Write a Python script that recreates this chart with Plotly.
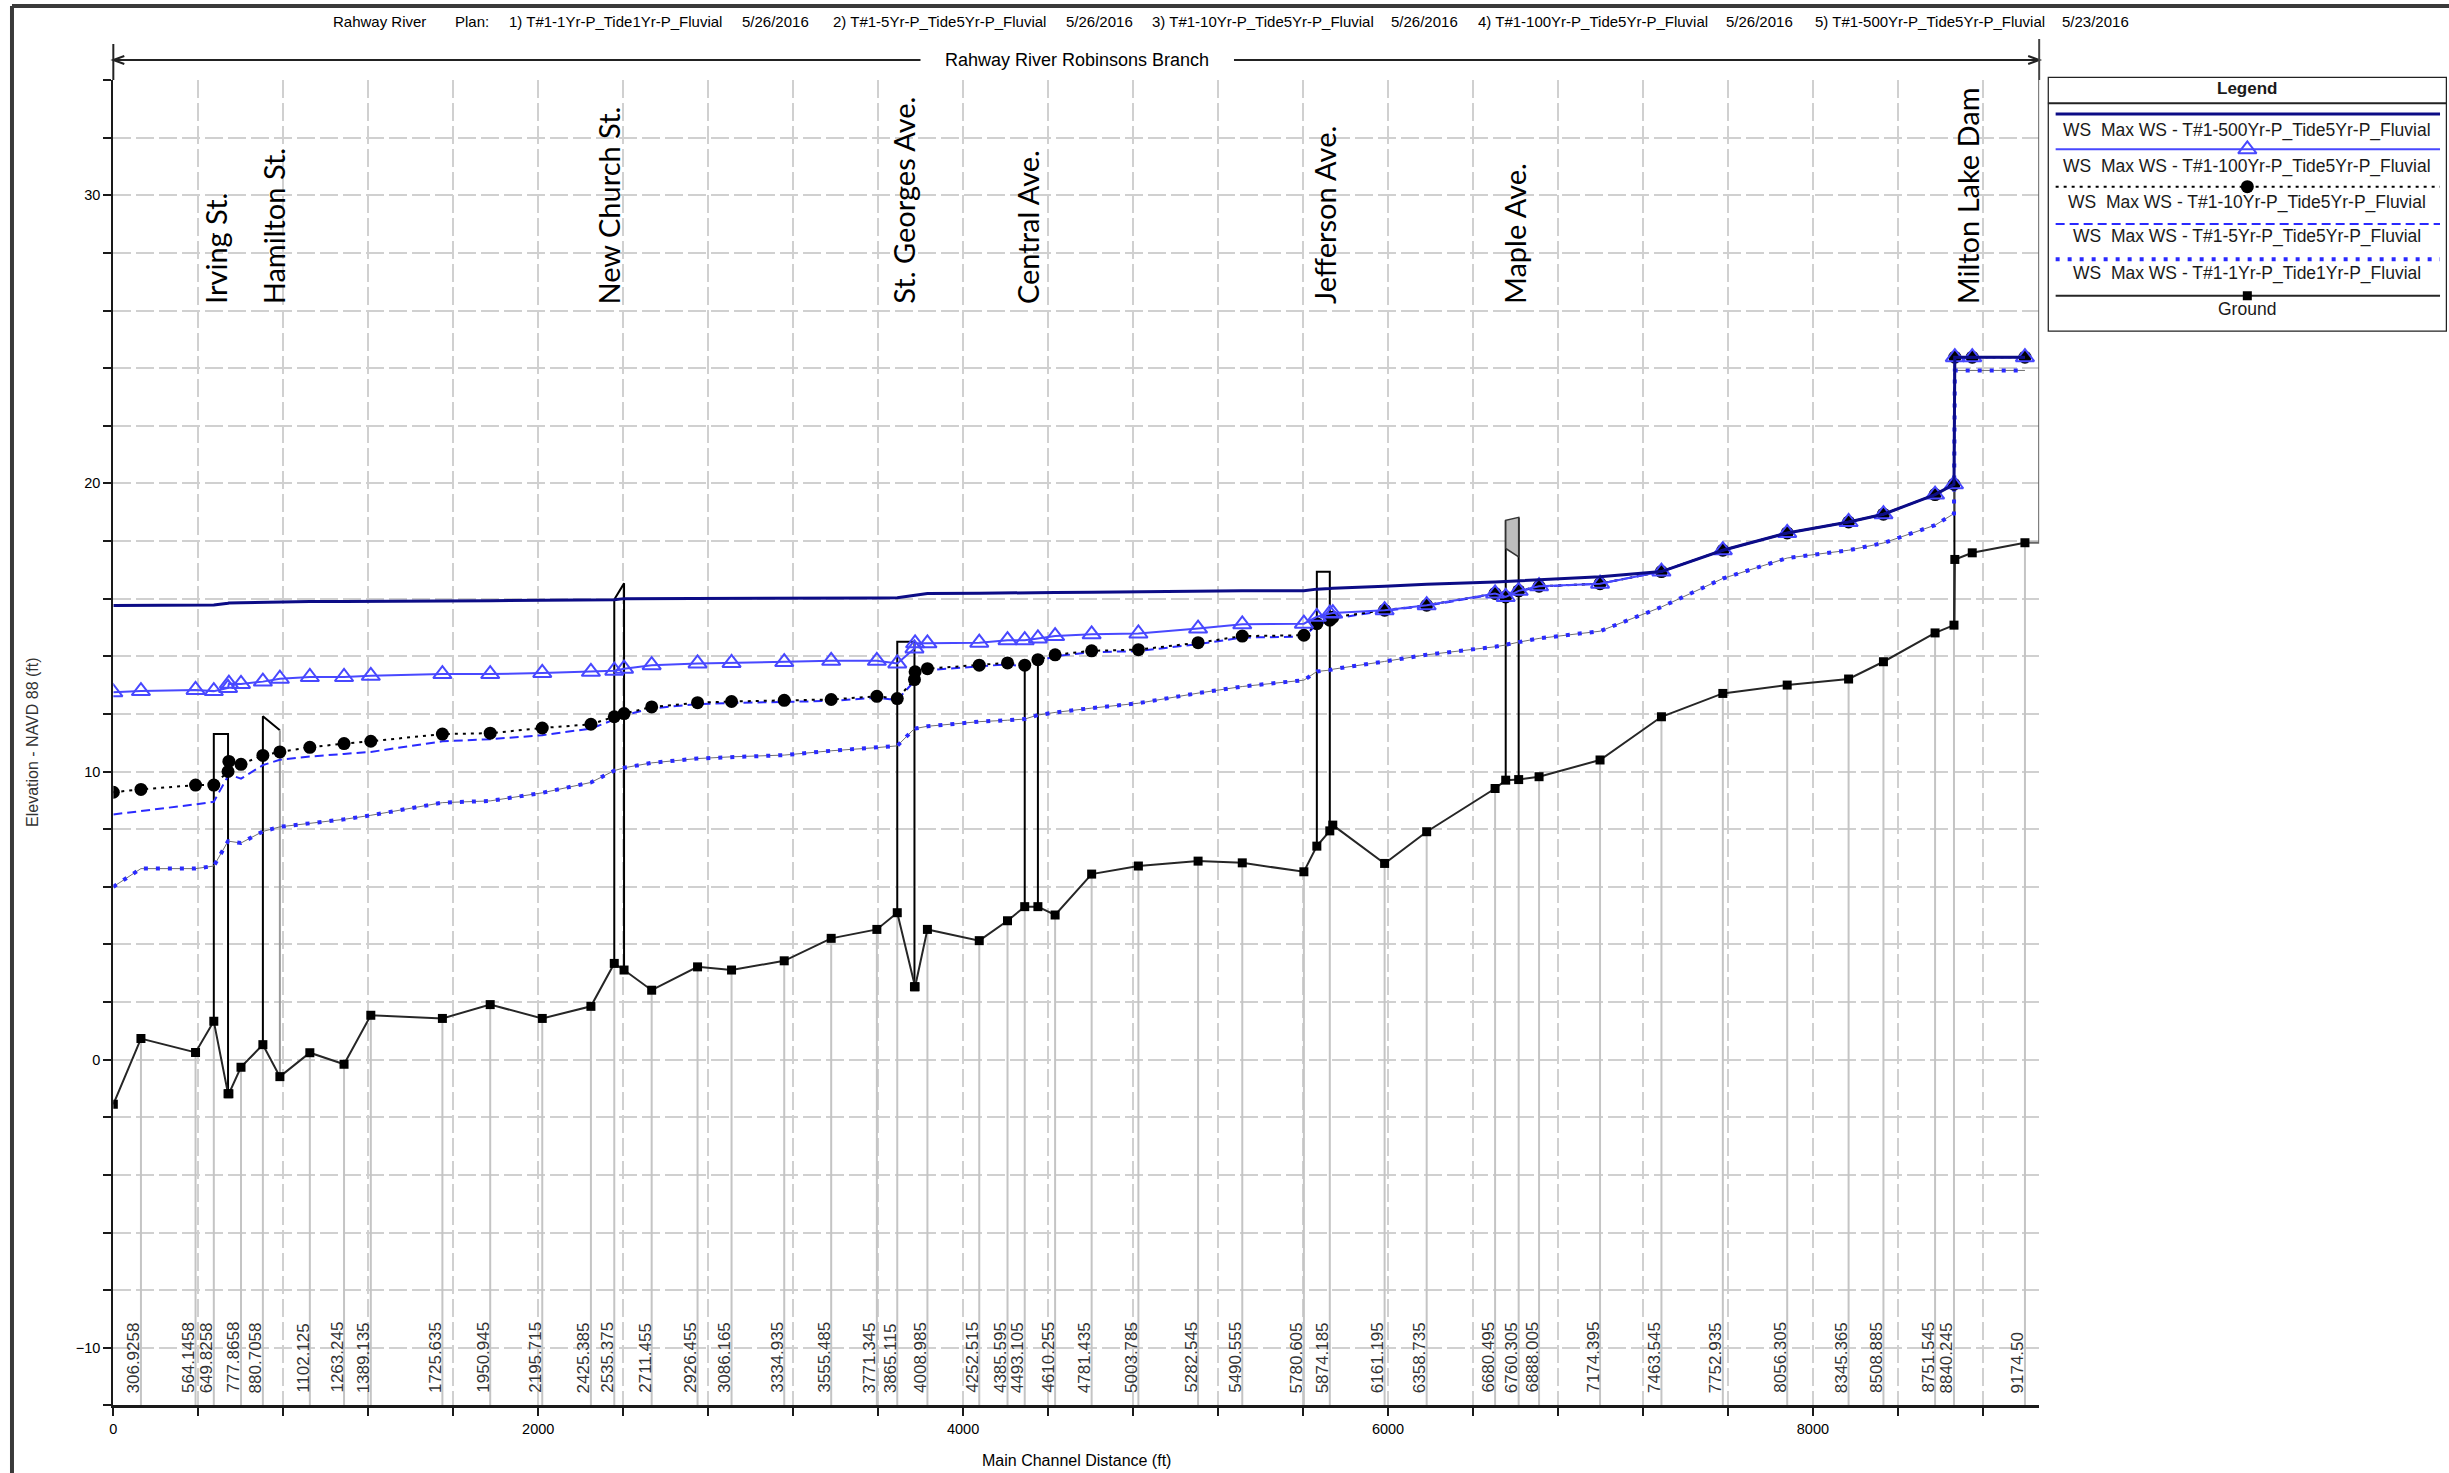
import plotly.graph_objects as go

W, H = 2449, 1473

# ---------------------------------------------------------------------------
# Water-surface profile along Rahway River Robinsons Branch
# ---------------------------------------------------------------------------
distance = [0, 130, 387, 473, 540, 544, 601, 704, 784, 925,
            1086, 1212, 1549, 1774, 2019, 2248, 2358, 2404, 2534, 2750,
            2910, 3158, 3379, 3594, 3690, 3771, 3774, 3832, 4076, 4209,
            4290, 4352, 4433, 4605, 4825, 5106, 5314, 5604, 5665, 5726,
            5740, 5984, 6182, 6504, 6554, 6615, 6711, 6998, 7287, 7576,
            7879, 8168, 8332, 8575, 8664, 8668, 8750, 8998]

river_station = ['', '306.9258', '564.1458', '649.8258', '', '', '777.8658', '880.7058', '', '1102.125',
                 '1263.245', '1389.135', '1725.635', '1950.945', '2195.715', '2425.385', '2535.375', '', '2711.455', '2926.455',
                 '3086.165', '3334.935', '3555.485', '3771.345', '3865.115', '', '', '4008.985', '4252.515', '4385.595',
                 '4493.105', '', '4610.255', '4781.435', '5003.785', '5282.545', '5490.555', '5780.605', '', '5874.185',
                 '', '6161.195', '6358.735', '6680.495', '', '6760.305', '6888.005', '7174.395', '7463.545', '7752.935',
                 '8056.305', '8345.365', '8508.885', '8751.545', '8840.245', '', '', '9174.50']

ground = [-1.55, 0.73, 0.25, 1.33, -1.18, -1.18, -0.26, 0.52, -0.59, 0.24,
          -0.16, 1.54, 1.43, 1.91, 1.43, 1.85, 3.34, 3.11, 2.41, 3.22,
          3.11, 3.43, 4.21, 4.52, 5.10, 2.53, 2.53, 4.52, 4.13, 4.82,
          5.31, 5.31, 5.02, 6.44, 6.72, 6.89, 6.83, 6.52, 7.41, 7.94,
          8.14, 6.81, 7.91, 9.41, 9.70, 9.72, 9.82, 10.40, 11.90, 12.71,
          13.00, 13.21, 13.81, 14.81, 15.08, 17.36, 17.59, 17.94]

ws_1yr = [6.00, 6.63, 6.63, 6.72, 7.58, 7.58, 7.52, 7.92, 8.08, 8.20,
          8.34, 8.48, 8.92, 8.98, 9.26, 9.62, 10.03, 10.13, 10.30, 10.45,
          10.51, 10.57, 10.72, 10.83, 10.89, 11.49, 11.49, 11.57, 11.73, 11.78,
          11.82, 11.96, 12.05, 12.20, 12.37, 12.72, 12.95, 13.17, 13.47, 13.52,
          13.55, 13.82, 14.05, 14.33, 14.39, 14.49, 14.62, 14.87, 15.71, 16.70,
          17.41, 17.68, 17.93, 18.55, 18.95, 23.92, 23.92, 23.92]

ws_5yr = [8.51, 8.62, 8.86, 8.95, 9.88, 9.90, 9.75, 10.22, 10.41, 10.52,
          10.61, 10.68, 11.05, 11.12, 11.26, 11.49, 11.80, 11.95, 12.19, 12.34,
          12.38, 12.42, 12.45, 12.56, 12.48, 13.14, 13.41, 13.52, 13.64, 13.72,
          13.64, 13.83, 14.00, 14.14, 14.18, 14.42, 14.65, 14.68, 15.10, 15.22,
          15.30, 15.58, 15.75, 16.16, 16.04, 16.25, 16.41, 16.52, 16.94, 17.68,
          18.28, 18.66, 18.93, 19.61, 19.97, 24.38, 24.38, 24.38]

ws_10yr = [9.28, 9.38, 9.53, 9.53, 10.00, 10.35, 10.25, 10.56, 10.68, 10.84,
           10.97, 11.05, 11.30, 11.33, 11.51, 11.64, 11.90, 12.01, 12.24, 12.39,
           12.43, 12.47, 12.50, 12.61, 12.53, 13.19, 13.46, 13.57, 13.69, 13.77,
           13.69, 13.88, 14.05, 14.19, 14.23, 14.47, 14.70, 14.73, 15.13, 15.25,
           15.35, 15.60, 15.77, 16.18, 16.06, 16.27, 16.43, 16.52, 16.94, 17.68,
           18.28, 18.66, 18.93, 19.61, 19.97, 24.38, 24.38, 24.38]

ws_100yr = [12.75, 12.79, 12.83, 12.79, 12.90, 13.05, 13.04, 13.12, 13.22, 13.28,
            13.28, 13.32, 13.38, 13.38, 13.42, 13.46, 13.50, 13.57, 13.69, 13.75,
            13.77, 13.80, 13.84, 13.84, 13.75, 14.27, 14.45, 14.45, 14.47, 14.56,
            14.56, 14.62, 14.70, 14.76, 14.79, 14.96, 15.11, 15.13, 15.37, 15.48,
            15.50, 15.60, 15.77, 16.18, 16.06, 16.27, 16.43, 16.52, 16.94, 17.68,
            18.28, 18.66, 18.93, 19.61, 19.97, 24.38, 24.38, 24.38]

ws_500yr = [15.76, 15.76, 15.77, 15.78, 15.84, 15.85, 15.86, 15.88, 15.89, 15.90,
            15.90, 15.91, 15.92, 15.93, 15.94, 15.95, 15.96, 16.00, 16.00, 16.01,
            16.01, 16.02, 16.02, 16.02, 16.03, 16.12, 16.14, 16.18, 16.19, 16.19,
            16.20, 16.20, 16.21, 16.22, 16.24, 16.26, 16.27, 16.27, 16.33, 16.35,
            16.36, 16.43, 16.50, 16.58, 16.60, 16.62, 16.66, 16.76, 16.94, 17.68,
            18.28, 18.66, 18.93, 19.61, 19.97, 24.38, 24.38, 24.38]

# bridge decks / structures (distance ft, elevation ft)
irving_x, irving_z = [473, 473, 540, 540], [1.33, 11.30, 11.30, -1.18]
hamilton_x, hamilton_z = [704, 704, 784], [0.52, 11.92, 11.43]
hamilton_face_x, hamilton_face_z = [784, 784], [11.43, -0.59]
newchurch_x, newchurch_z = [2358, 2358, 2404, 2404], [3.34, 15.97, 16.53, 3.11]
stgeorges_x, stgeorges_z = [3690, 3690, 3771, 3771], [5.10, 14.50, 14.50, 2.53]
central_x, central_z = [4290, 4290, None, 4352, 4352], [5.31, 13.69, None, 5.31, 13.88]
jefferson_x, jefferson_z = [5665, 5665, 5726, 5726], [7.41, 16.93, 16.93, 7.94]
maple_x, maple_z = [6554, 6554, None, 6615, 6615], [9.70, 18.72, None, 9.72, 18.82]
maple_deck_x, maple_deck_z = [6554, 6554, 6615, 6615, 6554], [17.74, 18.72, 18.82, 17.45, 17.74]
dam_x, dam_z = [8666, 8666], [15.08, 19.97]
reach_end_x, reach_end_z = [8998, 9065, 9065], [17.94, 17.94, 34.0]

road_names = ["Irving St.", "Hamilton St.", "New Church St.", "St. Georges Ave.",
              "Central Ave.", "Jefferson Ave.", "Maple Ave.", "Milton Lake Dam"]
road_distance = [480, 752, 2330, 3722, 4300, 5698, 6595, 8728]

header_items = ["Rahway River", "Plan:", "1) T#1-1Yr-P_Tide1Yr-P_Fluvial", "5/26/2016",
                "2) T#1-5Yr-P_Tide5Yr-P_Fluvial", "5/26/2016", "3) T#1-10Yr-P_Tide5Yr-P_Fluvial",
                "5/26/2016", "4) T#1-100Yr-P_Tide5Yr-P_Fluvial", "5/26/2016",
                "5) T#1-500Yr-P_Tide5Yr-P_Fluvial", "5/23/2016"]
header_left_px = [328, 450, 504, 737, 828, 1062, 1148, 1387, 1474, 1723, 1812, 2059]

legend_labels = ["WS  Max WS - T#1-500Yr-P_Tide5Yr-P_Fluvial",
                 "WS  Max WS - T#1-100Yr-P_Tide5Yr-P_Fluvial",
                 "WS  Max WS - T#1-10Yr-P_Tide5Yr-P_Fluvial",
                 "WS  Max WS - T#1-5Yr-P_Tide5Yr-P_Fluvial",
                 "WS  Max WS - T#1-1Yr-P_Tide1Yr-P_Fluvial",
                 "Ground"]

# ---------------------------------------------------------------------------
# styles
# ---------------------------------------------------------------------------
NAVY = "#0c0c86"
BLUE = "#2a2aff"
LBLUE = "#4848ff"
GRID = "#d0d0d0"
ARIAL = "Liberation Sans, Arial, sans-serif"

PLOT_L, PLOT_R, PLOT_T, PLOT_B = 109.5, 2038.5, 80, 1405.4
X_RANGE = [0, 9065]
Y_RANGE = [-12, 34]


def px(x):
    return x / W


def py(y):
    return 1 - y / H


fig = go.Figure()

# cross-section station lines: from the plot floor up to the ground point
st_x, st_y = [], []
for d, rs, g in zip(distance, river_station, ground):
    if rs:
        st_x += [d, d, None]
        st_y += [Y_RANGE[0], g, None]
fig.add_trace(go.Scatter(x=st_x, y=st_y, mode="lines",
                         line=dict(color="#c4c4c4", width=2), hoverinfo="skip"))

# structures
for sx, sz, col in [(irving_x, irving_z, "black"), (hamilton_x, hamilton_z, "black"),
                    (hamilton_face_x, hamilton_face_z, "#9a9a9a"),
                    (newchurch_x, newchurch_z, "black"), (stgeorges_x, stgeorges_z, "black"),
                    (central_x, central_z, "black"), (jefferson_x, jefferson_z, "black"),
                    (maple_x, maple_z, "black"), (dam_x, dam_z, "black"),
                    (reach_end_x, reach_end_z, "#666666")]:
    fig.add_trace(go.Scatter(x=sx, y=sz, mode="lines", line=dict(color=col, width=2),
                             hoverinfo="skip"))
fig.add_trace(go.Scatter(x=maple_deck_x, y=maple_deck_z, mode="lines", fill="toself",
                         fillcolor="#bdbdbd", line=dict(color="#333333", width=1.5),
                         hoverinfo="skip"))

# ground
fig.add_trace(go.Scatter(x=distance, y=ground, mode="lines+markers",
                         line=dict(color="#262626", width=2),
                         marker=dict(symbol="square", size=9, color="black")))

# 1-yr: thin base line with heavy blue dots
fig.add_trace(go.Scatter(x=distance, y=ws_1yr, mode="lines",
                         line=dict(color="#707070", width=1)))
fig.add_trace(go.Scatter(x=distance, y=ws_1yr, mode="lines",
                         line=dict(color=BLUE, width=4, dash="4px,8px")))
# 5-yr dashed
fig.add_trace(go.Scatter(x=distance, y=ws_5yr, mode="lines",
                         line=dict(color=BLUE, width=2, dash="9px,5px")))
# 10-yr dotted with filled circles
fig.add_trace(go.Scatter(x=distance, y=ws_10yr, mode="lines+markers",
                         line=dict(color="black", width=2, dash="3px,5px"),
                         marker=dict(symbol="circle", size=13, color="black")))
# 100-yr with open triangles
fig.add_trace(go.Scatter(x=distance, y=ws_100yr, mode="lines+markers",
                         line=dict(color=LBLUE, width=2),
                         marker=dict(symbol="triangle-up-open", size=16,
                                     color=LBLUE, line=dict(width=2, color=LBLUE))))
# 500-yr
fig.add_trace(go.Scatter(x=distance, y=ws_500yr, mode="lines",
                         line=dict(color=NAVY, width=3)))

# ---------------------------------------------------------------------------
# legend box drawn on its own pixel-scaled axes
# ---------------------------------------------------------------------------
LG_L, LG_R, LG_T, LG_B = 2047, 2447, 76.7, 331.7
leg_line_y = [114, 149.3, 186.7, 224, 259.3, 295.7]
leg_text_y = [130.7, 166.7, 202.7, 236.7, 273.3, 309.3]
lx = [2055, 2440]
mx = 2247
sample_styles = [
    dict(color=NAVY, width=3),
    dict(color=LBLUE, width=2),
    dict(color="black", width=2, dash="3px,5px"),
    dict(color=BLUE, width=2, dash="9px,5px"),
    dict(color=BLUE, width=4, dash="4px,8px"),
    dict(color="#262626", width=2),
]
for yv, st in zip(leg_line_y, sample_styles):
    fig.add_trace(go.Scatter(x=lx, y=[yv, yv], mode="lines", line=st,
                             xaxis="x2", yaxis="y2", hoverinfo="skip"))
fig.add_trace(go.Scatter(x=[mx], y=[leg_line_y[1]], mode="markers", xaxis="x2", yaxis="y2",
                         marker=dict(symbol="triangle-up-open", size=16, color=LBLUE,
                                     line=dict(width=2, color=LBLUE))))
fig.add_trace(go.Scatter(x=[mx], y=[leg_line_y[2]], mode="markers", xaxis="x2", yaxis="y2",
                         marker=dict(symbol="circle", size=13, color="black")))
fig.add_trace(go.Scatter(x=[mx], y=[leg_line_y[5]], mode="markers", xaxis="x2", yaxis="y2",
                         marker=dict(symbol="square", size=9, color="black")))

annotations = []
for txt, yv in zip(legend_labels, leg_text_y):
    annotations.append(dict(x=mx, y=yv, xref="x2", yref="y2", text=txt, showarrow=False,
                            xanchor="center", yanchor="middle",
                            font=dict(family=ARIAL, size=17.5, color="#1a1a1a")))
annotations.append(dict(x=mx, y=89, xref="x2", yref="y2", text="<b>Legend</b>", showarrow=False,
                        xanchor="center", yanchor="middle",
                        font=dict(family=ARIAL, size=17, color="#1a1a1a")))

shapes = [
    dict(type="rect", xref="x2", yref="y2", x0=LG_L, x1=LG_R, y0=LG_T, y1=LG_B,
         line=dict(color="#222222", width=2.5)),
    dict(type="line", xref="x2", yref="y2", x0=LG_L, x1=LG_R, y0=103.3, y1=103.3,
         line=dict(color="#222222", width=2)),
]

# header text
for txt, xl in zip(header_items, header_left_px):
    annotations.append(dict(x=px(xl), y=py(21), xref="paper", yref="paper", text=txt,
                            showarrow=False, xanchor="left", yanchor="middle",
                            font=dict(family=ARIAL, size=15, color="black")))

# reach arrow above the plot
AR_Y = 60
shapes += [
    dict(type="line", xref="paper", yref="paper", x0=px(PLOT_L), x1=px(918), y0=py(AR_Y), y1=py(AR_Y),
         line=dict(color="#222222", width=2)),
    dict(type="line", xref="paper", yref="paper", x0=px(1232), x1=px(PLOT_R), y0=py(AR_Y), y1=py(AR_Y),
         line=dict(color="#222222", width=2)),
    dict(type="path", xref="paper", yref="paper",
         path=f"M {px(PLOT_L + 11)},{py(AR_Y - 4)} L {px(PLOT_L)},{py(AR_Y)} L {px(PLOT_L + 11)},{py(AR_Y + 4)}",
         line=dict(color="#222222", width=2)),
    dict(type="path", xref="paper", yref="paper",
         path=f"M {px(PLOT_R - 11)},{py(AR_Y - 4)} L {px(PLOT_R)},{py(AR_Y)} L {px(PLOT_R - 11)},{py(AR_Y + 4)}",
         line=dict(color="#222222", width=2)),
    dict(type="line", xref="paper", yref="paper", x0=px(PLOT_L), x1=px(PLOT_L), y0=py(44), y1=py(PLOT_T),
         line=dict(color="#222222", width=2)),
    dict(type="line", xref="paper", yref="paper", x0=px(PLOT_R), x1=px(PLOT_R), y0=py(39), y1=py(PLOT_T),
         line=dict(color="#444444", width=2)),
    # outer frame
    dict(type="line", xref="paper", yref="paper", x0=px(8), x1=px(8), y0=py(6), y1=py(H),
         line=dict(color="#3a3a3a", width=4)),
    dict(type="line", xref="paper", yref="paper", x0=px(8), x1=px(W), y0=py(6), y1=py(6),
         line=dict(color="#3a3a3a", width=4)),
]
annotations.append(dict(x=px(1075), y=py(AR_Y), xref="paper", yref="paper",
                        text="Rahway River Robinsons Branch", showarrow=False,
                        xanchor="center", yanchor="middle",
                        font=dict(family=ARIAL, size=18, color="black")))

# road / structure names
for name, d in zip(road_names, road_distance):
    annotations.append(dict(x=d, y=26.15, xref="x", yref="y", text=name, showarrow=False,
                            textangle=-90, xanchor="center", yanchor="bottom",
                            font=dict(family="Lato, Open Sans, sans-serif", size=29, color="black")))

# river-station labels along the floor
for d, rs in zip(distance, river_station):
    if rs:
        annotations.append(dict(x=d, y=-11.64, xref="x", yref="y", text=rs, showarrow=False,
                                textangle=-90, xanchor="center", yanchor="bottom", xshift=-7,
                                font=dict(family=ARIAL, size=17, color="#333333")))

# axis titles
annotations.append(dict(x=px((PLOT_L + PLOT_R) / 2), y=py(1460), xref="paper", yref="paper",
                        text="Main Channel Distance (ft)", showarrow=False,
                        xanchor="center", yanchor="middle",
                        font=dict(family=ARIAL, size=16, color="black")))
annotations.append(dict(x=px(28), y=py(742), xref="paper", yref="paper",
                        text="Elevation - NAVD 88 (ft)", showarrow=False, textangle=-90,
                        xanchor="center", yanchor="middle",
                        font=dict(family=ARIAL, size=16, color="#333333")))

grid_common = dict(gridcolor=GRID, gridwidth=2, griddash="18px,5px")

fig.update_layout(
    width=W, height=H,
    margin=dict(l=0, r=0, t=0, b=0),
    paper_bgcolor="white", plot_bgcolor="white",
    showlegend=False,
    font=dict(family=ARIAL, size=14, color="black"),
    xaxis=dict(domain=[px(PLOT_L), px(PLOT_R)], range=X_RANGE, anchor="y",
               showline=True, linecolor="#1a1a1a", linewidth=3,
               ticks="outside", ticklen=8, tickwidth=1.5, tickcolor="#1a1a1a",
               tick0=0, dtick=2000, showgrid=True, zeroline=False,
               minor=dict(dtick=400, ticks="outside", ticklen=8, tickwidth=1.5,
                          tickcolor="#1a1a1a", showgrid=True, **grid_common),
               tickfont=dict(family=ARIAL, size=14.5, color="black"),
               **grid_common),
    yaxis=dict(domain=[py(PLOT_B), py(PLOT_T)], range=Y_RANGE, anchor="x",
               showline=True, linecolor="#1a1a1a", linewidth=2,
               ticks="outside", ticklen=8, tickwidth=1.5, tickcolor="#1a1a1a",
               tick0=0, dtick=10, showgrid=True, zeroline=False,
               minor=dict(dtick=2, ticks="outside", ticklen=8, tickwidth=1.5,
                          tickcolor="#1a1a1a", showgrid=True, **grid_common),
               tickfont=dict(family=ARIAL, size=14.5, color="black"),
               **grid_common),
    xaxis2=dict(domain=[px(LG_L), px(LG_R)], range=[LG_L, LG_R], anchor="y2",
                visible=False, fixedrange=True),
    yaxis2=dict(domain=[py(LG_B), py(LG_T)], range=[LG_B, LG_T], anchor="x2",
                visible=False, fixedrange=True),
    annotations=annotations,
    shapes=shapes,
)

fig.write_html("out.html")
